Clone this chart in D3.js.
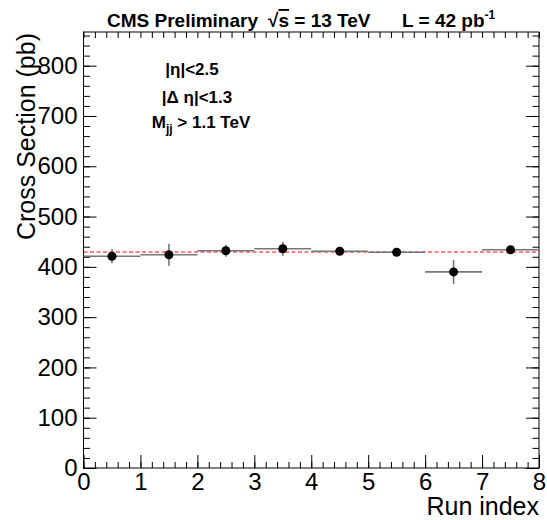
<!DOCTYPE html>
<html>
<head>
<script src="https://d3js.org/d3.v7.min.js"></script>
<style>
  body { margin: 0; background: #fff; }
  text { font-family: "Liberation Sans", Arial, Helvetica, sans-serif; }
</style>
</head>
<body>
<svg id="chart" width="547" height="520"></svg>
<script>
// values
var runIndex = [0.5, 1.5, 2.5, 3.5, 4.5, 5.5, 6.5, 7.5];
var crossSection = [421, 424, 432, 436, 431, 429, 390, 434];
var errors = [14, 22, 12, 14, 4, 4, 24, 5];
var fitValue = 429.5;
var xTicks = [0, 1, 2, 3, 4, 5, 6, 7, 8];
var yTicks = [0, 100, 200, 300, 400, 500, 600, 700, 800];

var margin = {top: 32, right: 8, bottom: 52, left: 83.5};
var width = 547 - margin.left - margin.right;
var height = 520 - margin.top - margin.bottom;

var svg = d3.select("#chart");
var g = svg.append("g")
    .attr("transform", "translate(" + margin.left + "," + margin.top + ")");

var xScale = d3.scaleLinear().domain([0, 8]).range([0, width]);
var yScale = d3.scaleLinear().domain([0, 867]).range([height, 0]);

var xMinor = d3.range(0, 8.01, 0.2).map(v => +v.toFixed(1));
var yMinor = d3.range(0, 861, 20);

// ticks point inward like ROOT
function styleAxis(sel) {
  sel.select(".domain").remove();
  sel.selectAll("line").attr("stroke", "#000").attr("stroke-width", 1);
  sel.selectAll("text").attr("font-size", 24).attr("fill", "#000");
}

// bottom
g.append("g").attr("transform", "translate(0," + height + ")")
  .call(d3.axisBottom(xScale).tickValues(xMinor).tickFormat("").tickSize(-6))
  .call(styleAxis);
g.append("g").attr("transform", "translate(0," + height + ")")
  .call(d3.axisBottom(xScale).tickValues(xTicks).tickFormat(d3.format("d")).tickSize(-13).tickPadding(4))
  .call(styleAxis)
  .selectAll("text").attr("dy", "0.74em");
// top
g.append("g")
  .call(d3.axisTop(xScale).tickValues(xMinor).tickFormat("").tickSize(-6))
  .call(styleAxis);
// left
g.append("g")
  .call(d3.axisLeft(yScale).tickValues(yMinor).tickFormat("").tickSize(-6.5))
  .call(styleAxis);
g.append("g")
  .call(d3.axisLeft(yScale).tickValues(yTicks).tickFormat(d3.format("d")).tickSize(-13).tickPadding(6))
  .call(styleAxis);
// right
g.append("g").attr("transform", "translate(" + width + ",0)")
  .call(d3.axisRight(yScale).tickValues(yMinor).tickFormat("").tickSize(-6.5))
  .call(styleAxis);
g.append("g").attr("transform", "translate(" + width + ",0)")
  .call(d3.axisRight(yScale).tickValues(yTicks).tickFormat("").tickSize(-13))
  .call(styleAxis);

// frame
g.append("rect")
  .attr("width", width).attr("height", height)
  .attr("fill", "none").attr("stroke", "#000").attr("stroke-width", 1);

// fit line
g.append("line")
  .attr("x1", xScale(0)).attr("x2", xScale(8))
  .attr("y1", yScale(fitValue)).attr("y2", yScale(fitValue))
  .attr("stroke", "#ff0000").attr("stroke-width", 1)
  .attr("stroke-dasharray", "4,2.5");

var pts = runIndex.map((x, i) => ({x: x, y: crossSection[i], e: errors[i]}));

// horizontal bin widths
g.append("g").selectAll("line")
  .data(pts).enter().append("line")
  .attr("x1", d => xScale(d.x - 0.5)).attr("x2", d => xScale(d.x + 0.5))
  .attr("y1", d => yScale(d.y)).attr("y2", d => yScale(d.y))
  .attr("stroke", "#777").attr("stroke-width", 1.6);

// vertical error bars
g.append("g").selectAll("line")
  .data(pts).enter().append("line")
  .attr("x1", d => xScale(d.x)).attr("x2", d => xScale(d.x))
  .attr("y1", d => yScale(d.y - d.e)).attr("y2", d => yScale(d.y + d.e))
  .attr("stroke", "#777").attr("stroke-width", 1.6);

g.append("g").selectAll("circle")
  .data(pts).enter().append("circle")
  .attr("cx", d => xScale(d.x)).attr("cy", d => yScale(d.y))
  .attr("r", 4.5).attr("fill", "#000");

// axis titles
svg.append("text")
  .attr("transform", "translate(35,33) rotate(-90)")
  .attr("text-anchor", "end")
  .attr("font-size", 25)
  .text("Cross Section (pb)");

svg.append("text")
  .attr("x", 539).attr("y", 515)
  .attr("text-anchor", "end")
  .attr("font-size", 25)
  .text("Run index");

// header
var title = svg.append("g").attr("font-weight", "bold").attr("font-size", 19);
title.append("text").attr("x", 107).attr("y", 27).text("CMS Preliminary");
var rs = title.append("text").attr("x", 268).attr("y", 27).text("\u221A");
rs.append("tspan").style("text-decoration", "overline").text("s");
rs.append("tspan").text(" = 13 TeV");
var lum = title.append("text").attr("x", 402).attr("y", 27).text("L = 42 pb");
lum.append("tspan").attr("font-size", 12).attr("dy", -8).text("-1");

// selection labels
var cuts = svg.append("g").attr("font-weight", "bold").attr("font-size", 17)
  .attr("text-anchor", "middle");
cuts.append("text").attr("x", 192).attr("y", 75).text("|\u03B7|<2.5");
cuts.append("text").attr("x", 197).attr("y", 103).text("|\u0394 \u03B7|<1.3");
var m = cuts.append("text").attr("x", 201).attr("y", 128).text("M");
m.append("tspan").attr("font-size", 12).attr("dy", 5).text("jj");
m.append("tspan").attr("dy", -5).text(" > 1.1 TeV");
</script>
</body>
</html>
